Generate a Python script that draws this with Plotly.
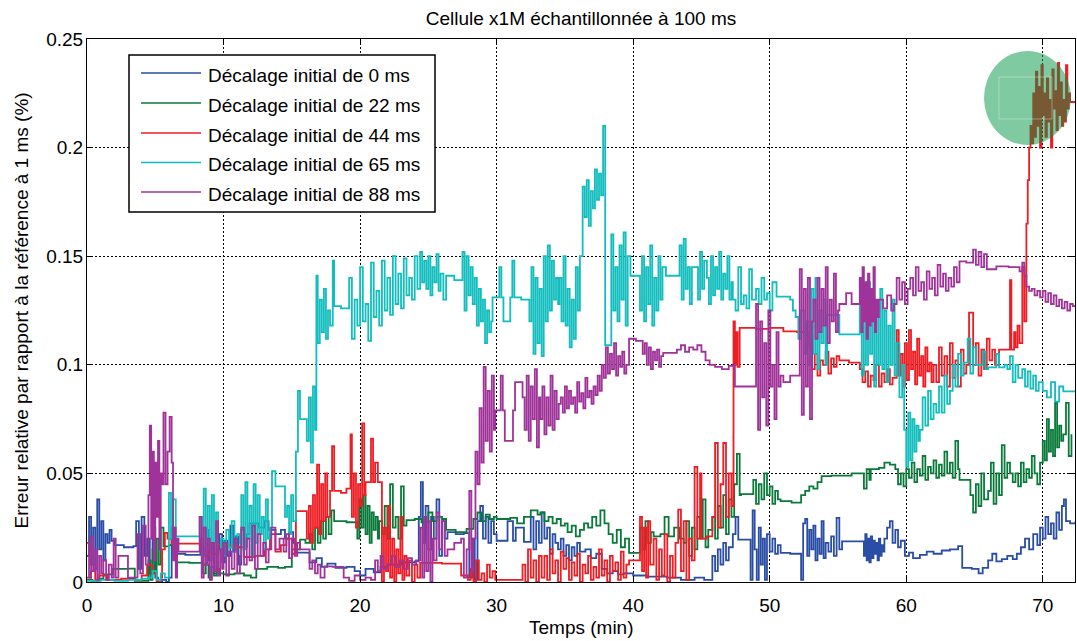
import plotly.graph_objects as go

# ---------------- data ----------------
labels = ["Décalage initial de 0 ms", "Décalage initial de 22 ms", "Décalage initial de 44 ms",
          "Décalage initial de 65 ms", "Décalage initial de 88 ms"]

t_0ms = [0, 0.15, 0.3, 0.45, 0.6, 0.75, 0.9, 1.05, 1.2, 1.35, 1.5, 1.65, 1.8,
         2.0, 2.7, 3.4,
         3.6, 3.8, 4.0, 4.2, 4.4, 4.6, 4.8,
         5.0, 5.2, 5.5, 5.8, 6.0,
         6.2, 6.3, 7.2,
         8.3, 8.5, 8.7, 8.9, 9.1, 9.3, 9.5, 9.7, 9.9, 10.1, 10.3, 10.5, 10.7, 10.9, 11.1, 11.3, 11.5, 11.7,
         11.9, 12.6, 13.0, 13.3,
         13.8, 14.2, 14.5, 14.8, 15.1,
         15.3,
         16.3, 16.8, 17.2, 17.6, 18.2, 19.0, 19.6, 20.0, 20.4, 21.0, 21.5,
         22.0, 23.0, 24.0,
         24.3, 24.45, 24.6, 24.8, 25.0, 25.2, 25.4, 25.6, 25.8, 26.0, 26.2,
         26.4, 27.0, 27.6,
         28.0, 28.2, 28.4, 28.6,
         28.8, 29.0, 29.2, 29.4, 29.6, 29.8,
         30.0, 30.8, 31.2, 31.4, 32.0,
         32.5, 32.7, 32.9, 33.1, 33.3, 33.5, 33.7, 33.9, 34.1, 34.3, 34.5, 34.7, 34.9, 35.1, 35.3, 35.5, 35.7, 35.9,
         36.1, 36.5, 36.9, 37.3,
         37.7, 38.1, 38.5, 38.9, 39.3,
         40.0, 41.0, 42.5, 43.5, 44.5, 45.2,
         45.8, 46.0, 46.2, 46.4, 46.6, 46.8, 47.0,
         47.3, 47.5, 47.7,
         48.6, 48.75, 48.9, 49.05, 49.2, 49.35, 49.5, 49.65,
         49.8, 50.0, 50.2, 50.4, 50.6,
         50.8, 51.5,
         52.3, 52.45, 52.6, 52.75, 52.9, 53.05, 53.2, 53.35, 53.5, 53.65, 53.8, 53.95, 54.1, 54.3, 54.5, 54.7, 54.9, 55.1,
         55.3,
         56.9, 57.0, 57.1, 57.2, 57.3, 57.4, 57.5, 57.6, 57.7, 57.8, 57.9, 58.0, 58.1, 58.2, 58.3,
         58.4, 58.6, 58.8, 59.0, 59.2, 59.4,
         59.6, 59.9, 60.2, 60.5,
         61.0, 61.5, 62.0, 62.6, 63.2, 63.8,
         64.1, 64.8, 65.3, 65.6,
         66.0, 66.3, 66.6, 67.0, 67.4, 67.8, 68.1,
         68.4, 68.7, 69.0, 69.3, 69.6,
         69.8, 70.0, 70.2, 70.4, 70.6, 70.8, 71.0, 71.2, 71.4, 71.55,
         71.7, 72.0, 72.4]
e_0ms = [0.012, 0.03, 0.008, 0.025, 0.006, 0.038, 0.015, 0.028, 0.01, 0.022, 0.018, 0.024, 0.019,
         0.017, 0.016, 0.0165,
         0.028, 0.006, 0.03, 0.012, 0.02, 0.004, 0.025,
         0.002, 0.0, 0.001, 0.0, 0.002,
         0.025, 0.013, 0.0125,
         0.02, 0.008, 0.024, 0.01, 0.018, 0.004, 0.015, 0.022, 0.009, 0.019, 0.012, 0.026, 0.014, 0.021, 0.008, 0.024, 0.016, 0.022,
         0.027, 0.025, 0.028, 0.024,
         0.022, 0.024, 0.02, 0.023, 0.018,
         0.0135,
         0.009, 0.011, 0.007, 0.0085, 0.0065, 0.007, 0.005, 0.003, 0.006, 0.0045, 0.007,
         0.008, 0.009, 0.0095,
         0.03, 0.046, 0.018, 0.035, 0.015, 0.03, 0.02, 0.038, 0.012, 0.028, 0.02,
         0.023, 0.022, 0.0225,
         0.002, 0.02, 0.001, 0.028,
         0.035, 0.02, 0.03, 0.018, 0.028, 0.022,
         0.019, 0.028, 0.019, 0.025, 0.0185,
         0.03, 0.015, 0.028, 0.018, 0.032, 0.02, 0.025, 0.013, 0.022, 0.018, 0.015, 0.02, 0.012, 0.017, 0.01, 0.016, 0.012, 0.018,
         0.014, 0.015, 0.011, 0.013,
         0.006, 0.004, 0.005, 0.0035, 0.004,
         0.003, 0.0025, 0.002, 0.001, 0.002, 0.001,
         0.012, 0.005, 0.015, 0.008, 0.018, 0.01, 0.016,
         0.022, 0.03, 0.0195,
         0.001, 0.033, 0.015, 0.001, 0.025, 0.008, 0.02, 0.001,
         0.022, 0.014, 0.02, 0.013, 0.017,
         0.0134, 0.013,
         0.001, 0.027, 0.029, 0.012, 0.024, 0.015, 0.026, 0.01, 0.02, 0.013, 0.028, 0.011, 0.018, 0.014, 0.021, 0.012, 0.0295, 0.015,
         0.0187,
         0.012, 0.022, 0.01, 0.02, 0.009, 0.021, 0.011, 0.019, 0.013, 0.018, 0.01, 0.02, 0.012, 0.017, 0.014,
         0.02, 0.025, 0.028, 0.018, 0.024, 0.016,
         0.019, 0.012, 0.0135, 0.011,
         0.0125, 0.014, 0.013, 0.0145, 0.015, 0.0165,
         0.0065, 0.006, 0.004, 0.0065,
         0.01, 0.013, 0.0095, 0.0105, 0.012, 0.0105, 0.013,
         0.016, 0.02, 0.015, 0.022, 0.017,
         0.025, 0.02, 0.03, 0.022, 0.027, 0.02, 0.032, 0.024, 0.035, 0.038,
         0.028, 0.027, 0.028]

t_22ms = [0, 0.4, 0.8,
          1.2,
          1.9, 3.0,
          3.5,
          4.5, 4.65, 4.8, 4.95, 5.1, 5.25, 5.4,
          5.6, 6.0, 6.3,
          6.6, 7.5,
          8.5, 8.7, 8.9, 9.1, 9.3, 9.5, 9.7,
          10.0, 10.8, 11.5, 12.0,
          12.4, 13.2, 14.0, 14.5,
          15.0,
          15.6, 16.0,
          16.3, 16.5, 16.7, 16.9, 17.1, 17.3, 17.5, 17.7, 17.9,
          18.1, 19.0,
          19.8, 19.95, 20.1, 20.25, 20.4, 20.55, 20.7, 20.85, 21.0, 21.15, 21.3,
          21.4, 21.6, 21.8, 22.0, 22.2, 22.4, 22.6, 22.8, 23.0, 23.2,
          23.4, 24.0, 24.5, 25.0, 25.3, 25.6, 26.0,
          26.3, 27.0, 27.8,
          28.3, 28.6, 28.9, 29.2, 29.5, 29.8,
          30.0, 31.0, 31.5, 32.0, 32.5, 33.0,
          33.2, 33.5, 33.8, 34.1, 34.4, 34.7, 35.0,
          35.2, 35.5, 35.8, 36.1,
          36.4, 36.7, 37.0, 37.3, 37.6, 37.9,
          38.2, 38.5, 38.8, 39.1, 39.4,
          39.7,
          40.5, 40.7, 40.9, 41.1, 41.3,
          41.5, 42.0, 42.3, 42.6, 43.0, 43.4,
          43.7, 43.9, 44.1, 44.3, 44.5, 44.7, 44.9, 45.1, 45.3, 45.5,
          45.8, 46.0, 46.2, 46.4, 46.6, 46.8, 47.0, 47.2, 47.4,
          47.6, 47.8,
          47.9,
          48.8, 49.0, 49.2, 49.4, 49.6, 49.8, 50.0, 50.2, 50.4, 50.6,
          50.8, 51.6,
          52.3, 52.6, 52.9, 53.2, 53.5,
          53.8, 54.5, 55.2, 56.0,
          56.9, 57.1, 57.3,
          57.4, 58.0, 58.4, 58.8, 59.2,
          59.4, 59.6, 59.8, 60.0, 60.2, 60.4, 60.6, 60.8, 61.0, 61.2, 61.4, 61.6, 61.8, 62.0, 62.2, 62.4, 62.6, 62.8, 63.0, 63.2, 63.4, 63.6, 63.8,
          63.9, 64.3,
          64.7, 64.9, 65.1, 65.3, 65.5, 65.7,
          66.0, 66.2, 66.4, 66.6, 66.8,
          67.0, 67.2, 67.4, 67.6, 67.8,
          68.0, 68.2, 68.4, 68.6, 68.8, 69.0, 69.2, 69.4, 69.6, 69.8,
          70.0, 70.15, 70.3, 70.45, 70.6, 70.75, 70.9, 71.05, 71.2, 71.35,
          71.5, 71.7, 71.9, 72.1]
e_22ms = [0.001, 0.0005, 0.0015,
          0.0035,
          0.006, 0.0062,
          0.0005,
          0.01, 0.001, 0.015, 0.004, 0.02, 0.008, 0.025,
          0.0164, 0.017, 0.016,
          0.009, 0.0088,
          0.004, 0.008, 0.002, 0.007, 0.003, 0.006, 0.004,
          0.0035, 0.004, 0.003, 0.002,
          0.006, 0.007, 0.0065, 0.007,
          0.015,
          0.0195, 0.018,
          0.022, 0.015, 0.025, 0.018, 0.028, 0.02, 0.03, 0.022, 0.033,
          0.028, 0.0275,
          0.02, 0.038, 0.025, 0.04, 0.022, 0.035, 0.018, 0.032, 0.024, 0.03, 0.02,
          0.028, 0.022, 0.035, 0.02, 0.045, 0.025, 0.03, 0.02, 0.044, 0.026,
          0.0285, 0.029, 0.0275, 0.032, 0.028, 0.03, 0.029,
          0.024, 0.023, 0.0245,
          0.029, 0.032, 0.028, 0.031, 0.029, 0.03,
          0.029, 0.0295, 0.027, 0.03, 0.033, 0.031,
          0.032, 0.028, 0.03, 0.027, 0.029, 0.026, 0.027,
          0.023, 0.026, 0.021, 0.024,
          0.027, 0.025, 0.03, 0.026, 0.033, 0.027,
          0.022, 0.018, 0.024, 0.016, 0.02,
          0.0134,
          0.025, 0.015, 0.028, 0.018, 0.023,
          0.021, 0.022, 0.03, 0.021, 0.025, 0.02,
          0.018, 0.028, 0.012, 0.025, 0.015, 0.03, 0.02, 0.038, 0.016, 0.024,
          0.03, 0.02, 0.035, 0.025, 0.04, 0.022, 0.038, 0.03, 0.045,
          0.059, 0.04,
          0.0405,
          0.047, 0.036, 0.045, 0.038, 0.05, 0.04, 0.044, 0.036, 0.042, 0.038,
          0.0372, 0.0365,
          0.04, 0.042, 0.044, 0.043, 0.046,
          0.0487, 0.049, 0.049, 0.05,
          0.043, 0.052, 0.047,
          0.052, 0.0525, 0.055, 0.054, 0.052,
          0.045, 0.05, 0.044, 0.052, 0.048, 0.055, 0.046, 0.052, 0.049, 0.058, 0.047, 0.053, 0.05, 0.056, 0.048, 0.054, 0.049, 0.06, 0.05, 0.055, 0.048, 0.065, 0.052,
          0.047, 0.047,
          0.04, 0.032, 0.045, 0.035, 0.05, 0.038,
          0.042, 0.055, 0.036, 0.05, 0.04,
          0.063, 0.048, 0.055, 0.05, 0.046,
          0.05, 0.044, 0.055, 0.046, 0.052, 0.048, 0.058, 0.05, 0.045, 0.055,
          0.065, 0.056, 0.075, 0.06, 0.07, 0.058, 0.0825, 0.062, 0.072, 0.065,
          0.068, 0.0825, 0.058, 0.068]

t_44ms = [0, 0.3, 0.6, 0.9, 1.5, 2.5, 3.5, 4.0, 4.4, 4.8, 5.1, 5.4,
          5.5, 5.7, 5.9,
          6.2,
          8.3, 8.6, 8.9, 9.2, 9.5, 9.8,
          10.0, 10.7,
          11.5, 12.3,
          13.0, 13.4, 13.8, 14.2, 14.6, 15.0,
          15.3,
          16.1, 16.25, 16.4, 16.55, 16.7, 16.85, 17.0, 17.15, 17.3, 17.45, 17.6,
          17.8, 17.95, 18.1, 18.6, 19.0,
          19.3, 19.4, 19.55, 19.7, 19.85, 20.0, 20.15, 20.3,
          20.4, 20.8, 20.95, 21.1, 21.3,
          21.6, 21.75, 21.9, 22.05, 22.2, 22.35, 22.5, 22.65, 22.8, 22.95, 23.1, 23.25,
          23.4, 23.6, 23.8, 24.0, 24.2,
          24.4, 26.0,
          27.4,
          27.9, 28.1, 28.3, 28.5, 28.7, 28.9, 29.1, 29.3, 29.5, 29.7,
          29.9,
          31.9, 32.1, 32.3, 32.5, 32.7, 32.9, 33.1,
          33.3, 33.5, 33.7, 33.9, 34.1, 34.3, 34.5, 34.7, 34.9, 35.1, 35.3, 35.5, 35.7, 35.9, 36.1, 36.3,
          36.5, 36.7, 36.9, 37.1, 37.3, 37.5, 37.7, 37.9, 38.1, 38.3, 38.5, 38.7, 38.9, 39.1, 39.3, 39.5,
          39.7,
          40.5, 40.65, 40.8, 40.95, 41.1, 41.25,
          41.5, 41.7, 41.9, 42.1, 42.3, 42.5, 42.7, 42.9, 43.1,
          43.3, 43.5, 43.7, 43.9, 44.1,
          44.3, 44.5, 44.7, 44.9,
          45.0, 45.4,
          45.8, 46.0, 46.2, 46.4, 46.6, 46.8, 47.0, 47.2,
          47.35, 47.45, 47.55, 47.65,
          47.8, 49.0, 50.0,
          51.0, 52.0,
          52.9, 53.1, 53.3, 53.5, 53.7, 53.9, 54.1, 54.3, 54.5, 54.7, 54.9,
          55.1, 55.8,
          56.6, 56.8, 57.0, 57.2, 57.4, 57.6, 57.8, 58.0, 58.2, 58.4, 58.6, 58.8, 59.0,
          59.3, 59.45, 59.6, 59.75, 59.9, 60.05, 60.2, 60.35, 60.5, 60.65, 60.8, 60.95, 61.1, 61.25, 61.4, 61.55, 61.7, 61.85,
          62.0, 62.2, 62.4, 62.6, 62.8, 63.0, 63.2, 63.4, 63.6, 63.8, 64.0, 64.2, 64.4,
          64.6,
          64.9, 65.1, 65.3, 65.5, 65.7, 65.9, 66.1, 66.3, 66.5,
          66.8,
          67.6, 67.7,
          67.9, 68.0, 68.15,
          68.3, 68.5, 68.65,
          68.8, 68.9, 69.0,
          69.1, 69.2, 69.3, 69.4, 69.5, 69.6, 69.7, 69.8, 69.9, 70.0, 70.1, 70.2, 70.3, 70.4, 70.5,
          70.6, 70.7, 70.8, 70.9, 71.0, 71.1, 71.2, 71.3, 71.4, 71.5, 71.6, 71.7, 71.8, 71.9,
          72.0, 72.4]
e_44ms = [0.002, 0.005, 0.001, 0.003, 0.001, 0.0015, 0.001, 0.003, 0.0078, 0.004, 0.0, 0.002,
          0.015, 0.0226, 0.02,
          0.0177,
          0.016, 0.012, 0.018, 0.013, 0.017, 0.015,
          0.017, 0.016,
          0.0115, 0.012,
          0.015, 0.022, 0.014, 0.017, 0.02, 0.013,
          0.0326,
          0.02, 0.035, 0.018, 0.04, 0.025, 0.054, 0.022, 0.045, 0.028, 0.05, 0.03,
          0.042, 0.0625, 0.042, 0.041, 0.043,
          0.068, 0.03, 0.05, 0.025, 0.045, 0.035, 0.073, 0.04,
          0.046, 0.066, 0.046, 0.055, 0.046,
          0.0, 0.025, 0.005, 0.035, 0.002, 0.02, 0.0, 0.015, 0.004, 0.03, 0.001, 0.012,
          0.003, 0.01, 0.0, 0.008, 0.002,
          0.0088, 0.0085,
          0.003,
          0.001, 0.006, 0.0, 0.01, 0.001, 0.004, 0.0, 0.008, 0.002, 0.005,
          0.001,
          0.008, 0.0, 0.015, 0.002, 0.01, 0.0, 0.012,
          0.002, 0.012, 0.001, 0.015, 0.004, 0.01, 0.0, 0.014, 0.006, 0.011, 0.001, 0.009, 0.003, 0.013, 0.0, 0.008,
          0.004, 0.012, 0.001, 0.007, 0.002, 0.015, 0.003, 0.01, 0.0, 0.012, 0.005, 0.009, 0.001, 0.014, 0.002, 0.008,
          0.01,
          0.03, 0.005, 0.025, 0.002, 0.028, 0.008,
          0.02, 0.001, 0.015, 0.003, 0.022, 0.0, 0.012, 0.002, 0.018,
          0.0333, 0.005, 0.028, 0.001, 0.02,
          0.01, 0.053, 0.02, 0.05,
          0.02, 0.021,
          0.03, 0.064, 0.025, 0.045, 0.064, 0.03, 0.05, 0.035,
          0.12, 0.1, 0.115, 0.099,
          0.117, 0.1165, 0.117,
          0.1154, 0.115,
          0.108, 0.098, 0.105, 0.095, 0.102, 0.1, 0.106, 0.096, 0.103, 0.099, 0.104,
          0.102, 0.101,
          0.098, 0.092, 0.097, 0.09, 0.095, 0.093, 0.1, 0.09, 0.096, 0.092, 0.098, 0.091, 0.094,
          0.116, 0.095, 0.105, 0.09, 0.11, 0.093, 0.116, 0.098, 0.106, 0.091, 0.112, 0.095, 0.104, 0.09, 0.108, 0.097, 0.101, 0.092,
          0.1, 0.092, 0.108, 0.095, 0.104, 0.09, 0.11, 0.094, 0.102, 0.09, 0.107, 0.096, 0.1,
          0.124,
          0.1, 0.11, 0.095, 0.107, 0.098, 0.112, 0.102, 0.107, 0.1,
          0.107,
          0.139, 0.107,
          0.115, 0.108, 0.118,
          0.11, 0.145, 0.12,
          0.165, 0.185, 0.2,
          0.21, 0.202, 0.225, 0.205, 0.235, 0.21, 0.228, 0.2, 0.238, 0.215, 0.225, 0.205, 0.232, 0.212, 0.222,
          0.2, 0.236, 0.218, 0.226, 0.208, 0.239, 0.215, 0.23, 0.21, 0.222, 0.212, 0.238, 0.218, 0.225,
          0.221, 0.221]

t_65ms = [0, 1, 2, 3, 4,
          4.5, 4.8, 5.1, 5.4, 5.7,
          6.0, 6.15, 6.3,
          6.5,
          8.25, 8.4, 8.55, 8.7, 8.85, 9.0, 9.15, 9.3, 9.45, 9.6,
          9.8, 10.0, 10.2, 10.4, 10.6, 10.8, 11.0, 11.2,
          11.3, 11.45, 11.6, 11.75, 11.9, 12.05, 12.2, 12.35, 12.5, 12.65, 12.8, 12.95, 13.1, 13.25, 13.4,
          13.55,
          13.8,
          14.5, 14.65, 14.8, 14.95, 15.1,
          15.3, 15.45,
          15.6,
          16.1, 16.25, 16.4, 16.55, 16.7,
          16.8, 16.9, 17.05, 17.2, 17.35, 17.5, 17.65, 17.8,
          18.0, 18.1, 18.6,
          19.2, 19.4, 19.6, 19.8, 20.0, 20.2, 20.4, 20.6, 20.8, 21.0, 21.2, 21.4, 21.6,
          21.8, 22.0, 22.2, 22.4, 22.6, 22.8, 23.0, 23.2, 23.4, 23.6, 23.8, 24.0, 24.2,
          24.4, 24.55, 24.7, 24.85, 25.0, 25.15, 25.3, 25.45, 25.6, 25.75, 25.9, 26.1,
          26.3, 26.9,
          27.5, 27.65, 27.8, 27.95, 28.1, 28.25, 28.4, 28.55, 28.7, 28.85, 29.0, 29.15, 29.3, 29.45, 29.6,
          29.7, 30.2, 30.35, 30.5, 31.0, 31.15, 31.3, 31.8,
          32.4, 32.55, 32.7, 32.85, 33.0, 33.15, 33.3, 33.45, 33.6, 33.75, 33.9, 34.05, 34.2, 34.35, 34.5,
          34.6, 34.75, 34.9, 35.05, 35.2, 35.35, 35.5, 35.65, 35.8, 35.95, 36.1,
          36.3, 36.45, 36.6, 36.75, 36.9, 37.05, 37.2, 37.35, 37.5, 37.65,
          37.8,
          37.95,
          38.4, 38.55, 38.7, 38.85, 39.0, 39.15, 39.3, 39.45, 39.6,
          39.8,
          40.5, 40.65, 40.8, 40.95, 41.1, 41.25, 41.4, 41.55, 41.7, 41.85, 42.0, 42.15,
          42.4,
          43.4, 43.55, 43.7, 43.85, 44.0, 44.15, 44.3, 44.6, 44.75, 44.9, 45.05, 45.2,
          45.4, 45.55, 45.7, 45.85, 46.0, 46.15, 46.3, 46.45, 46.6, 46.75, 46.9, 47.05, 47.2,
          47.3, 47.5, 47.7, 47.9, 48.1, 48.3, 48.5, 48.7,
          49.0, 49.2, 49.4, 49.6, 49.8, 50.0, 50.2,
          50.5,
          51.5, 51.7, 51.9, 52.1, 52.3, 52.5, 52.7,
          52.9, 53.05, 53.2, 53.35, 53.5, 53.65, 53.8, 53.95, 54.1,
          54.2,
          55.1,
          56.6, 56.75, 56.9, 57.05, 57.2, 57.35, 57.5, 57.65, 57.8, 57.95, 58.1, 58.25, 58.4, 58.55, 58.7, 58.85, 59.0, 59.15,
          59.3, 59.5, 59.7, 59.85,
          60.0, 60.15, 60.3, 60.45, 60.6, 60.75, 60.9,
          61.0, 61.2, 61.4, 61.6, 61.8, 62.0, 62.2,
          62.4, 62.6, 62.8, 63.0, 63.2,
          63.4, 63.6, 63.8, 64.0,
          64.2, 64.5, 64.7, 64.9, 65.1,
          65.4, 65.6, 65.8, 66.0, 66.4, 66.6, 66.8, 67.2,
          67.4, 67.6, 67.8, 68.0, 68.2,
          68.5, 68.7, 68.9, 69.1, 69.3, 69.5, 69.7,
          70.0, 70.3, 70.6, 70.9, 71.2, 71.5, 72.4]
e_65ms = [0.0005, 0.001, 0.0005, 0.001, 0.0015,
          0.002, 0.005, 0.001, 0.004, 0.002,
          0.041, 0.02, 0.038,
          0.021,
          0.03, 0.012, 0.043, 0.015, 0.035, 0.01, 0.04, 0.018, 0.032, 0.014,
          0.02, 0.012, 0.024, 0.016, 0.028, 0.014, 0.022, 0.018,
          0.04, 0.015, 0.046, 0.02, 0.035, 0.012, 0.045, 0.018, 0.04, 0.022, 0.03, 0.015, 0.038, 0.02, 0.025,
          0.051,
          0.044,
          0.03, 0.035, 0.022, 0.04, 0.028,
          0.06, 0.088,
          0.075,
          0.065, 0.085, 0.055, 0.09, 0.07,
          0.141, 0.11, 0.13, 0.115, 0.135, 0.112, 0.125, 0.118,
          0.148, 0.127, 0.126,
          0.14, 0.112, 0.13, 0.118, 0.145, 0.12, 0.128, 0.111, 0.147, 0.122, 0.134, 0.118, 0.148,
          0.125, 0.14, 0.123, 0.15, 0.128, 0.142, 0.126, 0.149, 0.132, 0.14, 0.13, 0.15, 0.135,
          0.152, 0.138, 0.148, 0.135, 0.15, 0.132, 0.145, 0.138, 0.151, 0.134, 0.142, 0.13,
          0.141, 0.139,
          0.152, 0.125, 0.15, 0.132, 0.145, 0.128, 0.14, 0.118, 0.135, 0.12, 0.13, 0.11, 0.125, 0.115, 0.12,
          0.131, 0.145, 0.131, 0.12, 0.131, 0.148, 0.131, 0.13,
          0.12, 0.145, 0.105, 0.14, 0.11, 0.135, 0.104, 0.15, 0.12, 0.155, 0.125, 0.148, 0.13, 0.14, 0.128,
          0.14, 0.12, 0.15, 0.118, 0.135, 0.108, 0.13, 0.112, 0.145, 0.125, 0.15,
          0.182, 0.168, 0.185, 0.164, 0.18, 0.172, 0.19, 0.176, 0.188, 0.178,
          0.21,
          0.109,
          0.16, 0.125, 0.145, 0.12, 0.155, 0.13, 0.161, 0.118, 0.15,
          0.141,
          0.125, 0.15, 0.12, 0.145, 0.128, 0.155, 0.118, 0.14, 0.125, 0.15, 0.13, 0.145,
          0.141,
          0.155, 0.13, 0.158, 0.135, 0.145, 0.128, 0.145, 0.145, 0.13, 0.152, 0.135, 0.148,
          0.14, 0.128, 0.15, 0.132, 0.145, 0.135, 0.152, 0.13, 0.142, 0.135, 0.15, 0.13, 0.138,
          0.13, 0.125, 0.145, 0.128, 0.132, 0.126, 0.144, 0.13,
          0.135, 0.128, 0.14, 0.13, 0.133, 0.125, 0.138,
          0.1314,
          0.13, 0.125, 0.122, 0.112, 0.125, 0.105, 0.12,
          0.1, 0.135, 0.105, 0.14, 0.098, 0.125, 0.11, 0.13, 0.1,
          0.123,
          0.114,
          0.14, 0.095, 0.13, 0.1, 0.138, 0.105, 0.12, 0.09, 0.128, 0.1, 0.135, 0.098, 0.125, 0.092, 0.118, 0.1, 0.13, 0.095,
          0.11, 0.085, 0.1, 0.07,
          0.053, 0.078, 0.056, 0.075, 0.06, 0.072, 0.065,
          0.07, 0.085, 0.072, 0.088, 0.075, 0.082, 0.078,
          0.09, 0.078, 0.095, 0.082, 0.088,
          0.1, 0.09, 0.105, 0.095,
          0.101, 0.112, 0.096, 0.108, 0.1,
          0.1, 0.106, 0.098, 0.0988, 0.0988, 0.105, 0.0988, 0.1,
          0.098, 0.104, 0.092, 0.1, 0.094,
          0.098, 0.09, 0.097, 0.089, 0.095, 0.088, 0.092,
          0.088, 0.085, 0.092, 0.083, 0.09, 0.0878, 0.0878]

t_88ms = [0, 0.15, 0.3, 0.45, 0.6, 0.75, 0.9, 1.05,
          1.2, 1.4, 1.6, 1.8,
          1.95, 2.1, 2.3, 3.0,
          3.5, 3.7, 3.9, 4.1, 4.3,
          4.5, 4.6, 4.7, 4.8, 4.9, 5.0, 5.1, 5.2, 5.3, 5.4,
          5.5, 5.6, 5.75, 5.9, 6.05, 6.2,
          6.3, 6.4, 6.5, 6.6,
          6.7,
          8.25, 8.4, 8.55, 8.7, 8.85, 9.0, 9.15, 9.3, 9.45, 9.6, 9.75, 9.9,
          10.0, 10.2, 10.4, 10.6, 10.8, 11.0, 11.2,
          11.3, 11.5, 11.7, 11.9, 12.1, 12.3, 12.5, 12.7, 12.9, 13.1,
          13.3, 13.5, 13.8, 14.1, 14.4,
          14.6, 14.8, 15.0, 15.2, 15.4,
          15.6,
          16.3, 16.5, 16.7, 16.9, 17.1, 17.4, 18.0,
          18.8, 19.2, 19.6, 20.0, 20.4, 20.8,
          21.1, 21.3, 21.5, 21.7,
          22.0, 22.3, 22.6, 22.9, 23.2, 23.5, 23.8, 24.1,
          24.4, 24.55, 24.7, 24.85, 25.0, 25.15, 25.3,
          25.4, 25.6, 25.8, 26.0, 26.2,
          26.4, 26.9,
          27.4, 27.6, 27.8,
          28.0, 28.15,
          28.3, 28.45, 28.6, 28.75, 28.9, 29.05, 29.2, 29.35, 29.5, 29.65, 29.8,
          29.9, 30.3, 30.45, 30.6, 31.2, 31.35,
          31.9, 32.05, 32.2, 32.35, 32.5, 32.65, 32.8, 32.95, 33.1,
          33.2, 33.35, 33.5, 33.65, 33.8, 33.95, 34.1, 34.25, 34.4, 34.55,
          34.7, 34.85, 35.0, 35.15, 35.3, 35.45, 35.6, 35.75, 35.9, 36.05,
          36.2, 36.35, 36.5, 36.65, 36.8, 36.95, 37.1, 37.25, 37.4, 37.55,
          37.7, 37.85, 38.0, 38.15, 38.3, 38.45, 38.6, 38.75, 38.9, 39.05, 39.2, 39.35, 39.5,
          39.7, 40.2,
          40.7, 40.85, 41.0, 41.15, 41.3, 41.45, 41.6, 41.75, 41.9, 42.05,
          42.2,
          43.2, 43.5, 43.8, 44.1, 44.4, 44.7, 45.0,
          45.3, 45.6, 46.0, 46.5, 47.0,
          47.35, 47.45, 47.6,
          49.0, 49.15, 49.3, 49.45, 49.6, 49.75, 49.9, 50.05, 50.2, 50.35, 50.5, 50.65, 50.8,
          51.0, 51.5,
          52.2, 52.35, 52.5, 52.65, 52.8, 52.95, 53.1,
          53.2, 53.35, 53.5, 53.65, 53.8, 53.95, 54.1, 54.25, 54.4, 54.55, 54.7, 54.85, 55.0,
          55.1, 55.6, 56.0,
          56.6, 56.7, 56.8, 56.9, 57.0, 57.1, 57.2, 57.3, 57.4, 57.5, 57.6, 57.7, 57.8, 57.9,
          58.0, 58.3, 58.6, 58.9, 59.1,
          59.3, 59.5, 59.7, 59.9, 60.1,
          60.3, 60.5, 60.7, 60.9, 61.1, 61.3, 61.5, 61.7, 61.9,
          62.1, 62.3, 62.5, 62.7, 62.9, 63.1, 63.3, 63.5, 63.7,
          63.9, 64.4,
          64.9, 65.1, 65.3, 65.5, 65.7,
          65.9,
          66.6, 67.5,
          68.3, 68.5, 68.65,
          68.8, 69.0, 69.2, 69.4, 69.6,
          69.8, 70.0, 70.2, 70.4, 70.6, 70.8, 71.0,
          71.2, 71.4, 71.6, 71.8, 72.0, 72.2, 72.4]
e_88ms = [0.018, 0.002, 0.021, 0.005, 0.015, 0.001, 0.012, 0.004,
          0.01, 0.001, 0.008, 0.002,
          0.02, 0.002, 0.012, 0.002,
          0.002, 0.022, 0.004, 0.026, 0.008,
          0.04, 0.072, 0.02, 0.06, 0.01, 0.055, 0.03, 0.065, 0.015, 0.05,
          0.045, 0.078, 0.045, 0.06, 0.076, 0.055,
          0.01, 0.025, 0.002, 0.02,
          0.014,
          0.03, 0.002, 0.025, 0.008, 0.02, 0.001, 0.018, 0.005, 0.028, 0.003, 0.015, 0.006,
          0.018, 0.003, 0.014, 0.006, 0.02, 0.004, 0.012,
          0.025, 0.008, 0.02, 0.01, 0.026, 0.006, 0.022, 0.012, 0.018, 0.009,
          0.015, 0.025, 0.015, 0.02, 0.014,
          0.022, 0.011, 0.02, 0.012, 0.018,
          0.015,
          0.006, 0.01, 0.004, 0.008, 0.002, 0.0072, 0.007,
          0.002, 0.0005, 0.003, 0.001, 0.002, 0.001,
          0.01, 0.005, 0.012, 0.006,
          0.008, 0.012, 0.007, 0.01, 0.006, 0.011, 0.008, 0.01,
          0.025, 0.002, 0.03, 0.005, 0.028, 0.0, 0.02,
          0.01, 0.032, 0.015, 0.028, 0.012,
          0.015, 0.018,
          0.02, 0.002, 0.015,
          0.042, 0.005,
          0.02, 0.06, 0.045, 0.08, 0.055, 0.099, 0.065, 0.088, 0.06, 0.095, 0.07,
          0.079, 0.095, 0.079, 0.065, 0.079, 0.092,
          0.085, 0.07, 0.095, 0.065, 0.09, 0.075, 0.098, 0.062, 0.085,
          0.075, 0.09, 0.068, 0.085, 0.072, 0.095, 0.07, 0.088, 0.075, 0.082,
          0.085, 0.078, 0.09, 0.08, 0.088, 0.082, 0.085, 0.078, 0.092, 0.083,
          0.087, 0.08, 0.094, 0.085, 0.088, 0.082, 0.09, 0.086, 0.095, 0.088,
          0.1, 0.094, 0.108, 0.096, 0.105, 0.098, 0.11, 0.095, 0.104, 0.099, 0.106, 0.096, 0.1,
          0.112, 0.111,
          0.105, 0.11, 0.1, 0.108, 0.098, 0.106, 0.102, 0.107, 0.099, 0.104,
          0.1055,
          0.107, 0.109, 0.106, 0.108, 0.107, 0.109, 0.106,
          0.102, 0.1, 0.099, 0.098, 0.0995,
          0.1, 0.09, 0.09,
          0.128, 0.07, 0.12, 0.085, 0.11, 0.072, 0.125, 0.09, 0.1, 0.075, 0.115, 0.09, 0.095,
          0.092, 0.095,
          0.144, 0.077, 0.135, 0.09, 0.14, 0.075, 0.12,
          0.13, 0.112, 0.14, 0.115, 0.135, 0.118, 0.145, 0.11, 0.13, 0.12, 0.142, 0.115, 0.125,
          0.128, 0.133, 0.128,
          0.14, 0.115, 0.145, 0.12, 0.138, 0.112, 0.142, 0.118, 0.135, 0.12, 0.145, 0.115, 0.13, 0.122,
          0.13, 0.126, 0.132, 0.125, 0.128,
          0.14, 0.13, 0.138, 0.128, 0.135,
          0.14, 0.132, 0.145, 0.134, 0.138, 0.13, 0.143, 0.135, 0.14,
          0.132, 0.146, 0.136, 0.142, 0.134, 0.14, 0.136, 0.145, 0.138,
          0.1476, 0.147,
          0.153, 0.146, 0.152, 0.145, 0.151,
          0.144,
          0.1453, 0.145,
          0.143, 0.147, 0.141,
          0.136, 0.134, 0.135, 0.132, 0.134,
          0.131, 0.134, 0.129, 0.133, 0.128, 0.132, 0.127,
          0.13, 0.126, 0.129, 0.125, 0.128, 0.127, 0.127]

times = [t_0ms, t_22ms, t_44ms, t_65ms, t_88ms]
errors = [e_0ms, e_22ms, e_44ms, e_65ms, e_88ms]
colors = ["#2A4DA5", "#0A7A3A", "#EE1D24", "#12BDBE", "#A0339A"]

for t, e in zip(times, errors):
    assert len(t) == len(e), (len(t), len(e))

# ---------------- layout geometry ----------------
W, H = 1077, 641
ML, MR, MT, MB = 87, 2, 39, 59
PW, PH = W - ML - MR, H - MT - MB
FONT = "Liberation Sans, Arial, sans-serif"


def px(xp):
    return (xp - ML) / PW


def py(yp):
    return (H - MB - yp) / PH


fig = go.Figure()
for t, e, c, name in zip(times, errors, colors, labels):
    fig.add_trace(go.Scatter(x=t, y=e, mode="lines", name=name, showlegend=False,
                             line=dict(color=c, width=1.8, shape="hv")))

axis_common = dict(showline=True, linecolor="black", linewidth=1, mirror="ticks",
                   ticks="inside", ticklen=6, tickcolor="black",
                   showgrid=True, gridcolor="black", griddash="2px,2px", gridwidth=1,
                   zeroline=False, tickfont=dict(family=FONT, size=19, color="black"))

fig.update_xaxes(range=[0, 72.36], dtick=10, tick0=0, ticklabelstandoff=6, **axis_common)
fig.update_yaxes(range=[0, 0.25], dtick=0.05, tick0=0, ticklabelstandoff=-1, **axis_common)

shapes = []
annotations = []

# legend box (drawn manually to match the long line samples)
shapes.append(dict(type="rect", xref="paper", yref="paper", x0=px(129), x1=px(435),
                   y0=py(212), y1=py(55), line=dict(color="black", width=1.5),
                   fillcolor="white", layer="above"))
row_y = [73, 103, 133, 162.5, 192]
for yy, c, name in zip(row_y, colors, labels):
    shapes.append(dict(type="line", xref="paper", yref="paper", x0=px(141), x1=px(201),
                       y0=py(yy), y1=py(yy), line=dict(color=c, width=1.5), layer="above"))
    annotations.append(dict(xref="paper", yref="paper", x=px(206), y=py(yy + 2), text=name,
                            showarrow=False, xanchor="left", yanchor="middle",
                            font=dict(family=FONT, size=19, color="black")))

# highlighted zone (green disc with faint frame)
shapes.append(dict(type="circle", xref="paper", yref="paper", x0=px(984), x1=px(1071),
                   y0=py(145), y1=py(51), fillcolor="rgba(0,150,66,0.5)",
                   line=dict(width=0), layer="above"))
shapes.append(dict(type="rect", xref="paper", yref="paper", x0=px(999), x1=px(1052),
                   y0=py(119), y1=py(77), fillcolor="rgba(0,0,0,0)",
                   line=dict(color="rgba(255,255,255,0.35)", width=1), layer="above"))

# axis titles
annotations.append(dict(xref="paper", yref="paper", x=0.5, y=0, yshift=-(627 - (H - MB)),
                        text="Temps (min)", showarrow=False, xanchor="center", yanchor="middle",
                        font=dict(family=FONT, size=19, color="black")))
annotations.append(dict(xref="paper", yref="paper", x=0, y=0.5, xshift=21 - ML,
                        text="Erreur relative par rapport à la référence à 1 ms (%)",
                        textangle=-90, showarrow=False, xanchor="center", yanchor="middle",
                        font=dict(family=FONT, size=19, color="black")))

fig.update_layout(
    width=W, height=H,
    margin=dict(l=ML, r=MR, t=MT, b=MB, pad=0),
    paper_bgcolor="white", plot_bgcolor="white",
    title=dict(text="Cellule x1M échantillonnée à 100 ms", x=(ML + PW / 2) / W, xanchor="center",
               y=1 - 18 / H, yanchor="middle", font=dict(family=FONT, size=19, color="black")),
    shapes=shapes, annotations=annotations, showlegend=False,
)

fig.write_html("out.html", config={"displayModeBar": False},
               post_script="document.body.style.margin='0';document.body.style.overflow='hidden';")
